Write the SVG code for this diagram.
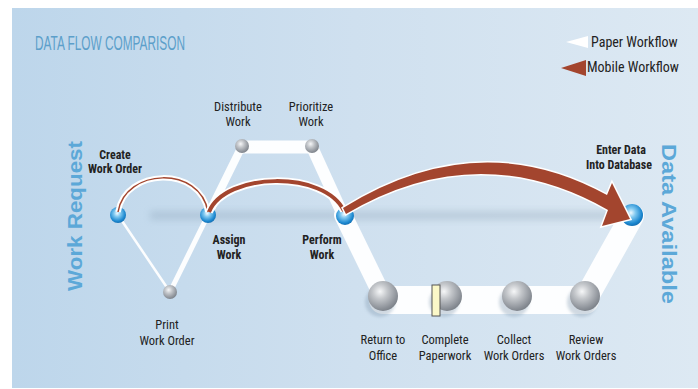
<svg xmlns="http://www.w3.org/2000/svg" width="698" height="389" viewBox="0 0 698 389">
  <defs>
    <linearGradient id="bg" x1="0" y1="0" x2="1" y2="0">
      <stop offset="0" stop-color="#bdd6eb"/>
      <stop offset="0.5" stop-color="#cfe0ef"/>
      <stop offset="1" stop-color="#dde9f3"/>
    </linearGradient>
    <radialGradient id="gray" cx="0.4" cy="0.35" r="0.7">
      <stop offset="0" stop-color="#f6f7f8"/>
      <stop offset="0.35" stop-color="#c4c7cb"/>
      <stop offset="0.8" stop-color="#8e939a"/>
      <stop offset="1" stop-color="#767c84"/>
    </radialGradient>
    <radialGradient id="blue" cx="0.45" cy="0.4" r="0.7">
      <stop offset="0" stop-color="#f0faff"/>
      <stop offset="0.3" stop-color="#7fc8f0"/>
      <stop offset="0.7" stop-color="#1c88d0"/>
      <stop offset="1" stop-color="#0d5a9a"/>
    </radialGradient>
    <filter id="blur" x="-20%" y="-200%" width="140%" height="500%">
      <feGaussianBlur stdDeviation="3.5"/>
    </filter>
    <filter id="soft" x="-50%" y="-50%" width="200%" height="200%">
      <feGaussianBlur stdDeviation="1.5"/>
    </filter>
    <style>
      .title { font-family: "Liberation Sans Narrow", "Liberation Sans", sans-serif; font-size: 20px; fill: #5c9fca; }
      .lbl { font-family: "Liberation Sans Narrow", "Roboto Condensed", "Liberation Sans", sans-serif; font-size: 12.5px; fill: #222; text-anchor: middle; }
      .bold { font-weight: bold; font-size: 12px; }
      .vert { font-family: "Liberation Sans", Arial, sans-serif; font-weight: bold; font-size: 20px; fill: #5ca8d8; text-anchor: middle; }
      .band { stroke: #ffffff; stroke-linecap: round; fill: none; opacity: 0.95; }
      .gball { fill: url(#gray); }
      .bball { fill: url(#blue); }
      .shadow { fill: #7f97ad; opacity: 0.35; filter: url(#soft); }
      .leg { font-family: "Liberation Sans Narrow", "Roboto Condensed", "Liberation Sans", sans-serif; font-size: 14px; fill: #222; }
    </style>
  </defs>

  <rect x="0" y="0" width="698" height="389" fill="#ffffff"/>
  <rect x="12" y="8" width="686" height="380" fill="url(#bg)"/>

  <text class="title" x="35" y="50" textLength="150" lengthAdjust="spacingAndGlyphs">DATA FLOW COMPARISON</text>

  <g id="legend">
    <polygon points="566,42 588,36 588,48" fill="#ffffff"/>
    <text class="leg" x="591" y="47">Paper Workflow</text>
    <polygon points="561,68 586,60 586,76" fill="#a3452e"/>
    <text class="leg" x="587" y="72">Mobile Workflow</text>
  </g>

  <text class="vert" transform="translate(82,216) rotate(-90)" textLength="150" lengthAdjust="spacingAndGlyphs">Work Request</text>
  <text class="vert" transform="translate(662,224) rotate(90)" textLength="160" lengthAdjust="spacingAndGlyphs">Data Available</text>

  <!-- soft shadow line -->
  <rect x="150" y="211" width="470" height="9" fill="#7d95ab" opacity="0.28" filter="url(#blur)"/>

  <g id="connectors">
    <g id="paper-connectors">
      <line class="band" x1="118" y1="215" x2="170" y2="292" stroke-width="2.5"/>
      <line class="band" x1="170" y1="292" x2="208" y2="215" stroke-width="5"/>
      <line class="band" x1="208" y1="215" x2="242" y2="146" stroke-width="8"/>
      <line class="band" x1="242" y1="147" x2="312" y2="147" stroke-width="13" stroke-linecap="butt"/>
      <line class="band" x1="312" y1="147" x2="343" y2="215" stroke-width="12"/>
      <line class="band" x1="343" y1="215" x2="383" y2="297" stroke-width="18"/>
      <line class="band" x1="383" y1="300" x2="585" y2="300" stroke-width="28" stroke-linecap="butt"/>
      <line class="band" x1="585" y1="300" x2="632" y2="216" stroke-width="24"/>
    </g>
  </g>

  <g id="node-work-request">
    <circle class="bball" cx="118" cy="215" r="8"/>
  </g>
  <g id="node-create-work-order">
    <text class="lbl bold" x="115" y="159">Create</text>
    <text class="lbl bold" x="115" y="173">Work Order</text>
  </g>
  <g id="node-print-work-order">
    <circle class="gball" cx="170" cy="292" r="7"/>
    <text class="lbl" x="167" y="329">Print</text>
    <text class="lbl" x="167" y="345">Work Order</text>
  </g>
  <g id="node-assign-work">
    <circle class="bball" cx="208" cy="215" r="8"/>
    <text class="lbl bold" x="229" y="244">Assign</text>
    <text class="lbl bold" x="229" y="259">Work</text>
  </g>
  <g id="node-distribute-work">
    <circle class="gball" cx="242" cy="146" r="7"/>
    <text class="lbl" x="238" y="111">Distribute</text>
    <text class="lbl" x="238" y="126">Work</text>
  </g>
  <g id="node-prioritize-work">
    <circle class="gball" cx="312" cy="146" r="7"/>
    <text class="lbl" x="311" y="111">Prioritize</text>
    <text class="lbl" x="311" y="126">Work</text>
  </g>
  <g id="node-perform-work">
    <circle class="bball" cx="345" cy="216" r="9"/>
    <text class="lbl bold" x="322" y="244">Perform</text>
    <text class="lbl bold" x="322" y="259">Work</text>
  </g>
  <g id="node-return-to-office">
    <circle class="shadow" cx="380" cy="302" r="15"/>
    <circle class="gball" cx="383" cy="296" r="15"/>
    <text class="lbl" x="383" y="344">Return to</text>
    <text class="lbl" x="383" y="360">Office</text>
  </g>
  <g id="node-complete-paperwork">
    <circle class="shadow" cx="444" cy="302" r="15"/>
    <circle class="gball" cx="447" cy="296" r="15"/>
    <rect x="432" y="285" width="8" height="31" fill="#fbf8c8" stroke="#555" stroke-width="1"/>
    <text class="lbl" x="445" y="344">Complete</text>
    <text class="lbl" x="445" y="360">Paperwork</text>
  </g>
  <g id="node-collect-work-orders">
    <circle class="shadow" cx="514" cy="302" r="15"/>
    <circle class="gball" cx="517" cy="296" r="15"/>
    <text class="lbl" x="514" y="344">Collect</text>
    <text class="lbl" x="514" y="360">Work Orders</text>
  </g>
  <g id="node-review-work-orders">
    <circle class="shadow" cx="582" cy="302" r="15"/>
    <circle class="gball" cx="585" cy="296" r="15"/>
    <text class="lbl" x="586" y="344">Review</text>
    <text class="lbl" x="586" y="360">Work Orders</text>
  </g>
  <g id="node-enter-data">
    <circle class="bball" cx="632" cy="215" r="11"/>
    <text class="lbl bold" x="621" y="154">Enter Data</text>
    <text class="lbl bold" x="619" y="169">Into Database</text>
  </g>

  <g id="mobile-connectors">
    <path d="M118,212 C125,168 200,165 208,212" fill="none" stroke="#ffffff" stroke-width="5.5"/>
    <path d="M118,212 C125,168 200,165 208,212" fill="none" stroke="#a3452e" stroke-width="1.5"/>
    <path d="M209,212 C225,172 325,170 344,211" fill="none" stroke="#ffffff" stroke-width="7.5"/>
    <path d="M209,212 C225,172 325,170 344,211" fill="none" stroke="#a3452e" stroke-width="4"/>
    <path d="M343,208 Q478,124 607,195 L612,183 L630,219 L602,226 L608,210 Q478,136 346,214 Z" fill="#a3452e" stroke="#ffffff" stroke-width="3" stroke-linejoin="miter" paint-order="stroke"/>
  </g>
</svg>
